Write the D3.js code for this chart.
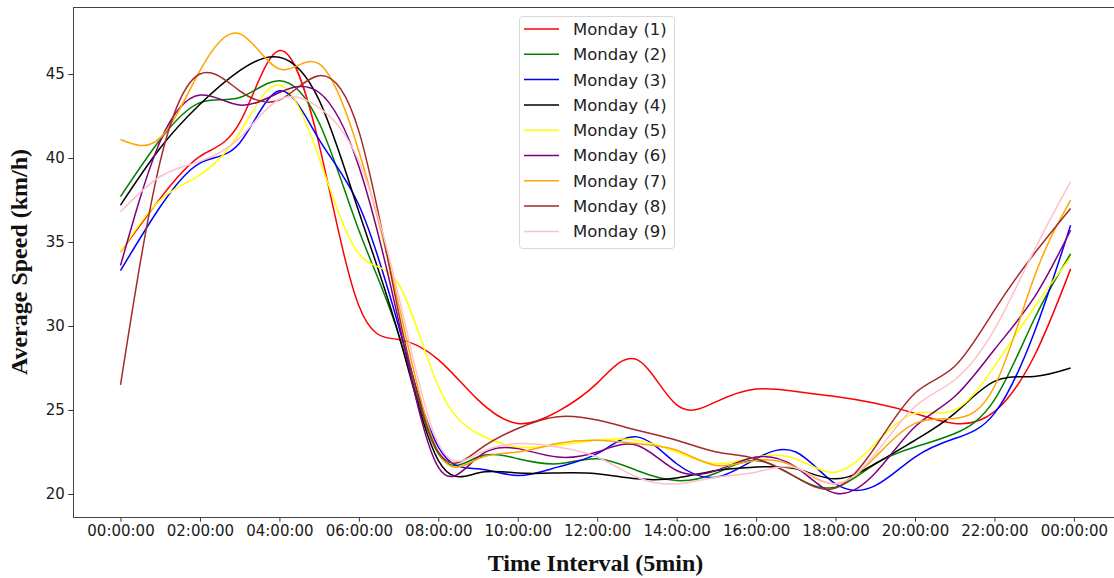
<!DOCTYPE html>
<html>
<head>
<meta charset="utf-8">
<script src="https://cdn.jsdelivr.net/npm/d3@7"></script>
<style>
  body { margin: 0; background: #fff; }
  svg { display: block; }
</style>
</head>
<body>
<div id="chart"></div>
<script>
// hour of day for each reading (last one is 23:55)
const hours = [0, 1, 2, 3, 4, 5, 6, 7, 8, 9, 10, 11, 12, 13, 14, 15, 16, 17, 18, 19, 20, 21, 22, 23, 23.917]

// average speed (km/h), one array per monday
const monday1 = [34.4, 37.6, 40.1, 42.1, 46.4, 40.8, 31.2, 29.2, 28.0, 25.6, 24.2, 24.9, 26.6, 28.0, 25.3, 25.5, 26.25, 26.1, 25.8, 25.4, 24.8, 24.2, 24.9, 28.2, 33.4]
const monday2 = [37.7, 41.1, 43.3, 43.6, 44.6, 42.1, 35.7, 29.5, 22.4, 22.2, 22.1, 21.8, 22.1, 21.4, 20.8, 21.25, 22.0, 21.0, 20.4, 21.8, 22.8, 23.6, 25.6, 30.4, 34.3]
const monday3 = [33.3, 37.1, 39.7, 40.9, 44.0, 41.1, 37.2, 30.0, 22.8, 21.5, 21.1, 21.6, 22.4, 23.4, 21.8, 21.0, 22.1, 22.5, 20.6, 20.5, 22.2, 23.3, 24.8, 29.6, 36.0]
const monday4 = [37.2, 40.6, 43.2, 45.2, 46.0, 43.45, 36.8, 29.5, 22.0, 21.25, 21.25, 21.25, 21.2, 20.9, 20.95, 21.4, 21.6, 21.5, 20.9, 21.8, 23.2, 24.8, 26.7, 27.0, 27.5]
const monday5 = [34.4, 37.5, 39.0, 41.5, 44.35, 40.0, 34.3, 32.5, 26.4, 23.6, 22.8, 22.9, 23.2, 23.2, 22.5, 21.8, 22.2, 22.1, 21.3, 23.0, 24.8, 25.0, 27.6, 31.1, 34.1]
const monday6 = [33.6, 41.0, 43.75, 43.15, 43.9, 43.9, 39.5, 30.3, 21.6, 22.2, 22.7, 22.2, 22.5, 22.9, 21.4, 21.4, 22.2, 21.6, 20.05, 21.25, 24.0, 25.8, 28.6, 31.7, 35.7]
const monday7 = [41.1, 41.2, 45.2, 47.4, 45.3, 45.6, 40.4, 31.3, 22.5, 22.1, 22.5, 23.0, 23.2, 23.0, 22.6, 21.7, 22.0, 21.6, 20.6, 22.2, 24.2, 24.5, 26.4, 32.9, 37.5]
const monday8 = [26.5, 39.8, 45.0, 44.0, 43.45, 44.9, 41.6, 30.8, 22.5, 22.6, 23.9, 24.6, 24.4, 23.8, 23.2, 22.5, 22.1, 21.0, 20.35, 22.8, 26.0, 27.6, 30.95, 34.3, 37.0]
const monday9 = [36.8, 38.9, 39.8, 41.2, 43.5, 43.0, 39.8, 31.8, 23.0, 22.4, 23.0, 22.8, 22.2, 21.0, 20.6, 21.0, 21.3, 21.55, 20.6, 22.4, 25.2, 26.8, 29.8, 34.5, 38.6]

const seriesNames = ["Monday (1)", "Monday (2)", "Monday (3)", "Monday (4)", "Monday (5)",
  "Monday (6)", "Monday (7)", "Monday (8)", "Monday (9)"]
const seriesValues = [monday1, monday2, monday3, monday4, monday5, monday6, monday7, monday8, monday9]
const seriesColors = ["red", "green", "blue", "black", "yellow", "purple", "orange", "brown", "pink"]

const xTickHours = [0, 2, 4, 6, 8, 10, 12, 14, 16, 18, 20, 22, 24]
const xTickLabels = ["00:00:00", "02:00:00", "04:00:00", "06:00:00", "08:00:00", "10:00:00",
  "12:00:00", "14:00:00", "16:00:00", "18:00:00", "20:00:00", "22:00:00", "00:00:00"]
const yTicks = [20, 25, 30, 35, 40, 45]

//////////////////////////////////////////////////////////////////////
// LAYOUT
//////////////////////////////////////////////////////////////////////
const width = 1114
const height = 578
const margin = { left: 73, top: 7, right: -4, bottom: 61 }

const x = d3.scaleLinear()
  .domain([-1.196, 25.11])
  .range([margin.left, width - margin.right])
const y = d3.scaleLinear()
  .domain([18.63, 48.99])
  .range([height - margin.bottom, margin.top])

const svg = d3.select("#chart").append("svg")
  .attr("width", width)
  .attr("height", height)

const tickFont = "DejaVu Sans, sans-serif"

// x axis
const xAxis = svg.append("g")
  .attr("transform", `translate(0,${height - margin.bottom})`)
  .call(d3.axisBottom(x)
    .tickValues(xTickHours)
    .tickFormat((d, i) => xTickLabels[i])
    .tickSize(4.7)
    .tickPadding(4))
xAxis.selectAll("text").style("font-family", tickFont).style("font-size", "15px").attr("fill", "#1a1a1a")

// y axis
const yAxis = svg.append("g")
  .attr("transform", `translate(${margin.left},0)`)
  .call(d3.axisLeft(y)
    .tickValues(yTicks)
    .tickSize(4.7)
    .tickPadding(3.5))
yAxis.selectAll("text").style("font-family", tickFont).style("font-size", "15px").attr("fill", "#1a1a1a")

svg.selectAll(".domain").remove()
svg.selectAll(".tick line").attr("stroke", "#333")

// frame
svg.append("rect")
  .attr("x", x.range()[0] + 0.5)
  .attr("y", y.range()[1] + 0.5)
  .attr("width", x.range()[1] - x.range()[0])
  .attr("height", y.range()[0] - y.range()[1])
  .attr("fill", "none")
  .attr("stroke", "#444")
  .attr("stroke-width", 1)

// lines
const line = d3.line()
  .x((d) => x(d[0]))
  .y((d) => y(d[1]))
  .curve(d3.curveNatural)

svg.append("g")
  .selectAll("path")
  .data(seriesValues)
  .join("path")
  .attr("d", (vals) => line(vals.map((v, i) => [hours[i], v])))
  .attr("fill", "none")
  .attr("stroke", (d, i) => seriesColors[i])
  .attr("stroke-width", 1.5)

// axis titles
svg.append("text")
  .attr("x", (x.range()[0] + x.range()[1]) / 2)
  .attr("y", 571)
  .attr("text-anchor", "middle")
  .style("font-family", "Liberation Serif, Times New Roman, serif")
  .style("font-weight", "bold")
  .style("font-size", "24px")
  .attr("fill", "#111")
  .text("Time Interval (5min)")

svg.append("text")
  .attr("transform", `translate(27,${(y.range()[0] + y.range()[1]) / 2}) rotate(-90)`)
  .attr("text-anchor", "middle")
  .style("font-family", "Liberation Serif, Times New Roman, serif")
  .style("font-weight", "bold")
  .style("font-size", "24px")
  .attr("fill", "#111")
  .text("Average Speed (km/h)")

// legend
const legend = svg.append("g").attr("transform", "translate(519,16)")
legend.append("rect")
  .attr("x", 0.5).attr("y", 0.5)
  .attr("width", 155).attr("height", 232)
  .attr("rx", 3)
  .attr("fill", "white").attr("fill-opacity", 0.8)
  .attr("stroke", "#d9d9d9")

const rows = legend.selectAll("g.row")
  .data(seriesNames)
  .join("g")
  .attr("class", "row")
  .attr("transform", (d, i) => `translate(0,${13 + i * 25.3})`)
rows.append("line")
  .attr("x1", 5).attr("x2", 40)
  .attr("stroke", (d, i) => seriesColors[i])
  .attr("stroke-width", 1.5)
rows.append("text")
  .attr("x", 54)
  .attr("dy", "0.36em")
  .style("font-family", tickFont)
  .style("font-size", "16.5px")
  .attr("fill", "#222")
  .text((d) => d)
</script>
</body>
</html>
